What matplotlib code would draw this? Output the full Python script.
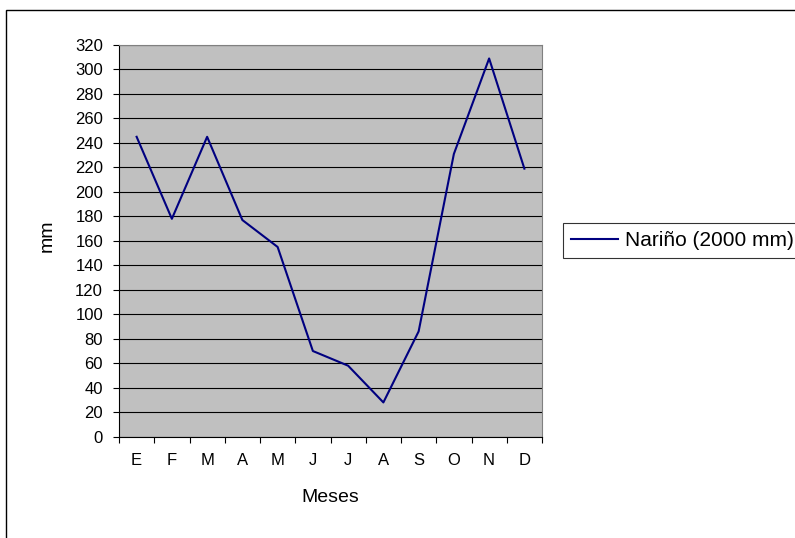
import matplotlib
matplotlib.use("Agg")
import matplotlib.pyplot as plt
from matplotlib.patches import Rectangle
from matplotlib.lines import Line2D

months = ["E", "F", "M", "A", "M", "J", "J", "A", "S", "O", "N", "D"]
rain = [245, 178, 245, 177, 155, 70, 58, 28, 86, 231, 309, 219]
series_label = "Nariño (2000 mm)"
yticks = list(range(0, 321, 20))

plt.rcParams['font.family'] = ['Liberation Sans', 'DejaVu Sans']

W, H = 795, 538
fig = plt.figure(figsize=(W/100, H/100), dpi=100)
ax = fig.add_axes([119/W, 1-436.7/H, (542-119)/W, (436.7-45)/H])
ax.set_facecolor('#C0C0C0')

x = list(range(len(months)))
ax.plot(x, rain, color='#000080', lw=1.5, zorder=3)
ax.set_xlim(-0.5, len(months)-0.5)
ax.set_ylim(0, 320)
ax.set_yticks(yticks)
ax.set_yticklabels([str(v) for v in yticks], fontsize=12)
ax.set_xticks([i - 0.5 for i in range(len(months)+1)])
ax.set_xticklabels([])
ax.set_xticks(x, minor=True)
ax.set_xticklabels(months, minor=True, fontsize=12)
ax.tick_params(axis='x', which='minor', length=0, pad=12)
ax.tick_params(axis='x', which='major', length=4, direction='out', color='black')
ax.tick_params(axis='y', length=4.5, direction='out', color='black', pad=7)
ax.yaxis.grid(True, color='black', lw=0.8)
ax.set_axisbelow(True)
for s in ['top', 'right']:
    ax.spines[s].set_color('#808080')
for s in ['left', 'bottom']:
    ax.spines[s].set_color('black')
ax.set_xlabel('Meses', fontsize=14)
ax.xaxis.label.set_va('center')
ax.xaxis.set_label_coords((330-119)/(542-119), (436.7-497.5)/391.7)
ax.set_ylabel('mm', fontsize=14)
ax.yaxis.label.set_va('center')
ax.yaxis.set_label_coords((47-119)/(542-119), (436.7-236)/391.7)

handle = Line2D([0], [0], color='#000080', lw=1.5)
leg = fig.legend([handle], [series_label], loc='center left',
                 bbox_to_anchor=(563/W, 1-240.5/H), fontsize=15,
                 frameon=True, fancybox=False, edgecolor='black',
                 borderpad=0.38, handlelength=2.25, handletextpad=0.34,
                 borderaxespad=0)
leg.get_frame().set_linewidth(0.8)

fig.patches.append(Rectangle((6/W, -0.1), 2, 1.1 - 10/H, transform=fig.transFigure,
                             fill=False, edgecolor='black', lw=1))

fig.savefig('out.png', dpi=100)
